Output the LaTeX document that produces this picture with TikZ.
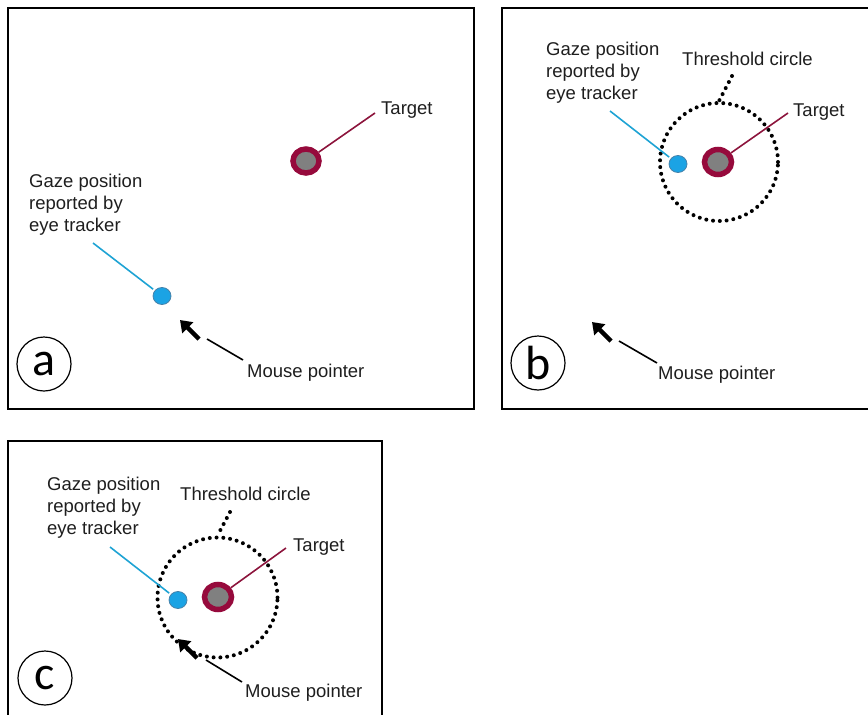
\documentclass[tikz,border=0pt]{standalone}
\usepackage{fontspec}
\setmainfont{Liberation Sans}
\newfontfamily\badgefam{Carlito}
\usetikzlibrary{shapes.geometric,arrows.meta}
\definecolor{tcrim}{RGB}{150,10,60}
\definecolor{tgray}{RGB}{128,128,128}
\definecolor{gzblue}{RGB}{27,163,228}
\definecolor{gzedge}{RGB}{70,130,170}
\definecolor{glinecol}{RGB}{30,163,212}
\definecolor{tlinecol}{RGB}{140,20,60}
\definecolor{txt}{RGB}{30,30,30}
\newcommand{\labfont}{\fontsize{18.5}{22}\selectfont}
\newcommand{\badgefont}{\fontsize{48}{50}\badgefam\selectfont}
\tikzset{
 panel/.style={draw=black, line width=2.4pt},
 lbl/.style={font=\labfont, text=txt, inner sep=0pt, anchor=west, align=left},
 tgt/.style={ellipse, draw=tcrim, line width=5.5pt, fill=tgray, inner sep=0pt, minimum width=27pt, minimum height=25pt},
 gz/.style={ellipse, draw=gzedge, line width=0.8pt, fill=gzblue, inner sep=0pt, minimum width=18pt, minimum height=17pt},
 thr/.style={circle, draw=black, line width=4pt, dash pattern=on 0pt off 6.8pt, line cap=round, minimum size=118pt, inner sep=0pt},
 dotline/.style={draw=black, line width=4pt, dash pattern=on 0pt off 6.8pt, line cap=round},
 tline/.style={draw=tlinecol, line width=1.6pt},
 gline/.style={draw=glinecol, line width=1.6pt},
 mline/.style={draw=black, line width=1.6pt},
 cursor/.style={draw=black, line width=4.5pt, -{Triangle[length=11pt,width=15pt]}},
 badge/.style={circle, draw=black, line width=1.2pt, minimum size=54pt, inner sep=0pt, font=\badgefont}
}
\begin{document}
\begin{tikzpicture}[x=1pt,y=-1pt]
\useasboundingbox (0,0) rectangle (868,715);
\clip (0,0) rectangle (868,715);

% ---------------- Panel a ----------------
\draw[panel] (8,8) rectangle (474,409);
\node[tgt, minimum width=26pt, minimum height=24pt] (tA) at (306,161) {};
\node[lbl] (tAl) at (381,110) {Target};
\coordinate (tAe) at (375,113);
\draw[tline] (tA) -- (tAe);
\node[gz] (gA) at (162,296) {};
\coordinate (gAe) at (93,243);
\draw[gline, shorten <=2pt] (gA) -- (gAe);
\node[lbl] (gAl) at (29,205) {Gaze position\\reported by\\eye tracker};
\coordinate (cA) at (180,320);
\coordinate (cAt) at (199,339);
\draw[cursor] (cAt) -- (cA);
\node[lbl] (mA) at (247,373) {Mouse pointer};
\coordinate (mAs) at (243,360);
\coordinate (mAe) at (207,339);
\draw[mline] (mAs) -- (mAe);
\node[badge] (bA) at (44,364) {a};

% ---------------- Panel b ----------------
\draw[panel] (502,8) rectangle (890,409);
\node[thr] (thB) at (719,162) {};
\node[lbl] (thBl) at (682,59) {Threshold circle};
\coordinate (thBs) at (732,76);
\draw[dotline] (thBs) -- (thB.north);
\node[gz] (gB) at (678,164) {};
\coordinate (gBe) at (610,111);
\draw[gline, shorten <=2pt] (gB) -- (gBe);
\node[lbl] (gBl) at (546,73) {Gaze position\\reported by\\eye tracker};
\node[tgt] (tB) at (718,162) {};
\coordinate (tBe) at (788,113);
\draw[tline] (tB) -- (tBe);
\node[lbl] (tBl) at (793,112) {Target};
\coordinate (cB) at (592,322);
\coordinate (cBt) at (611,341);
\draw[cursor] (cBt) -- (cB);
\node[lbl] (mB) at (658,375) {Mouse pointer};
\coordinate (mBs) at (657,363);
\coordinate (mBe) at (619,341);
\draw[mline] (mBs) -- (mBe);
\node[badge] (bB) at (538,363) {b};

% ---------------- Panel c ----------------
\draw[panel] (8,441) rectangle (382,740);
\node[thr, minimum size=120pt] (thC) at (217.5,597.5) {};
\node[lbl] (thCl) at (180,494) {Threshold circle};
\coordinate (thCs) at (230,512);
\draw[dotline] (thCs) -- (thC.north);
\node[gz] (gC) at (178,600) {};
\coordinate (gCe) at (110,547);
\draw[gline, shorten <=2pt] (gC) -- (gCe);
\node[lbl] (gCl) at (47,508) {Gaze position\\reported by\\eye tracker};
\node[tgt] (tC) at (218,597) {};
\coordinate (tCe) at (286,548);
\draw[tline] (tC) -- (tCe);
\node[lbl] (tCl) at (293,547) {Target};
\coordinate (cC) at (178,639);
\coordinate (cCt) at (197,658);
\draw[cursor] (cCt) -- (cC);
\node[lbl] (mC) at (245,693) {Mouse pointer};
\coordinate (mCs) at (242,682);
\coordinate (mCe) at (206,660);
\draw[mline] (mCs) -- (mCe);
\node[badge] (bC) at (45,678) {c};
\end{tikzpicture}
\end{document}
